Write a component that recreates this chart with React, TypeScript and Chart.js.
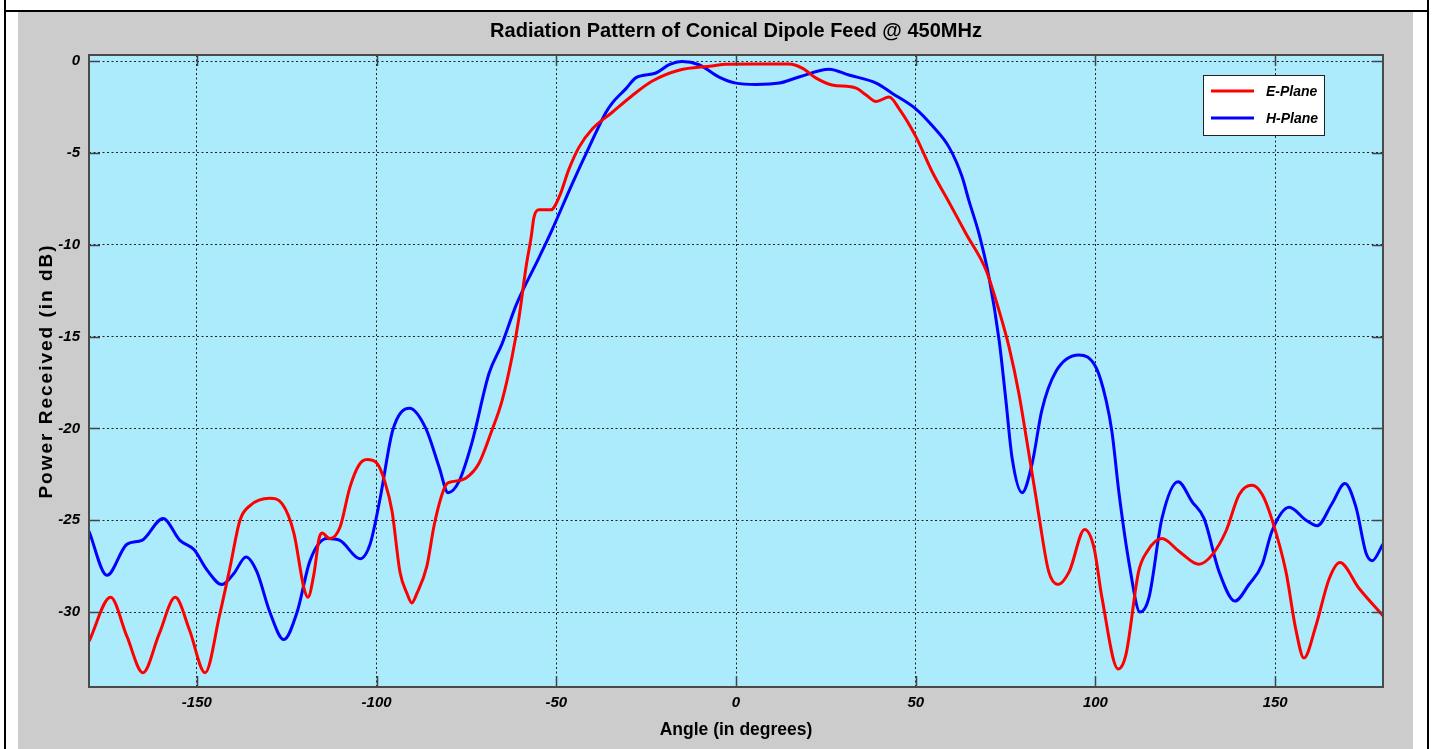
import React, { useEffect, useRef } from "react";
import { Chart, registerables } from "chart.js";

Chart.register(...registerables);

const TITLE = "Radiation Pattern of Conical Dipole Feed @ 450MHz";
const X_TITLE = "Angle (in degrees)";
const Y_TITLE = "Power Received (in dB)";
const SERIES_LABELS = ["E-Plane", "H-Plane"];
const SERIES_COLORS = ["#ff0000", "#0000ff"];

const X_MIN = -180;
const X_MAX = 180;
const Y_MIN = -34.08;
const Y_MAX = 0.33;
const X_TICKS = [-150, -100, -50, 0, 50, 100, 150];
const Y_TICKS = [-30, -25, -20, -15, -10, -5, 0];

const E_ANGLES = [
  -180, -174, -169.5, -165, -160.5, -156, -152, -147.7, -143.6, -140.8, -138, -135.2,
  -129.7, -126.3, -123, -120.2, -119.1, -117.4, -116, -115.2, -113, -110.2, -107.4,
  -104.9, -102.7, -99.9, -97.7, -95.7, -93.5, -91.5, -90.2, -88.8, -86, -84, -81.8,
  -80.4, -79, -75.1, -71.5, -67.9, -65.1, -62.3, -60.4, -58.4, -57, -56.2, -54.8,
  -51.5, -49.2, -46.5, -43.7, -40, -34.5, -29, -23.4, -15.9, -6.7, -2.8, 5, 14.7,
  18.4, 22.3, 26.7, 33.4, 36.2, 39, 42.6, 45.4, 50, 54.5, 59.3, 64, 69.6, 73.2, 76,
  78.7, 81, 83.5, 84.3, 87, 89.6, 92.7, 97, 99.6, 101.8, 106.3, 108.5, 112, 114.4,
  118.5, 123.3, 128.8, 132.4, 136.3, 140, 143.5, 146.4, 149, 153, 155.8, 158, 161.4,
  165, 168, 173.3, 180,
];
const E_VALUES = [
  -31.6, -29.2, -31.3, -33.3, -31.2, -29.2, -31.0, -33.3, -30.1, -27.6, -25.0, -24.2,
  -23.8, -24.1, -25.7, -28.7, -29.2, -27.9, -26.0, -25.7, -26.0, -25.4, -23.2,
  -22.0, -21.7, -21.9, -22.9, -24.5, -27.8, -29.0, -29.5, -29.0, -27.5, -25.3, -23.6,
  -23.0, -22.9, -22.7, -21.9, -20.1, -18.5, -16.1, -14.0, -11.2, -9.6, -8.5, -8.1,
  -8.1, -7.4, -5.9, -4.7, -3.7, -2.8, -1.9, -1.1, -0.5, -0.27, -0.17, -0.16, -0.16,
  -0.38, -0.93, -1.3, -1.47, -1.85, -2.2, -1.96, -2.6, -4.1, -6.0, -7.7, -9.4, -11.4,
  -13.6, -15.6, -18.1, -20.8, -23.8, -24.8, -27.8, -28.5, -27.8, -25.5, -26.5, -29.2,
  -33.1, -32.3, -27.8, -26.7, -26.0, -26.7, -27.4, -26.9, -25.6, -23.6, -23.1, -23.6,
  -24.9, -27.8, -31.0, -32.5, -30.7, -28.2, -27.3, -28.7, -30.2,
];

const H_ANGLES = [
  -180, -175, -169.4, -165.3, -159.4, -154.7, -150.8, -147.2, -143, -139.7, -136.3,
  -133.3, -129.7, -125.8, -122.1, -118.5, -113.8, -110.2, -104.6, -101.8, -99, -95.5,
  -90.8, -86.3, -82.6, -80.1, -77.1, -73.5, -68.7, -65.1, -61.2, -54.8, -51.2, -45.6,
  -40.9, -36.2, -34.5, -30.6, -27.8, -22.3, -18.6, -15, -10.3, -4.7, 0, 5.5, 12, 17.5,
  25.9, 31.4, 39, 43.4, 50, 54.5, 59.3, 62.9, 64.8, 67.6, 70.4, 73.2, 75.1, 76.8,
  79.6, 82.4, 85.1, 89, 95.4, 100.2, 103, 104.6, 106.6, 109.5, 112.4, 114.9, 118.5,
  123, 126.9, 130.2, 134.4, 138.8, 142.7, 146.4, 149.1, 153.9, 158.6, 161.7, 165.8,
  169.4, 172.5, 175.3, 177, 180,
];
const H_VALUES = [
  -25.6, -28.0, -26.3, -26.1, -24.9, -26.1, -26.6, -27.7, -28.5, -27.9, -27.0,
  -27.8, -30.0, -31.5, -30.0, -27.2, -26.0, -26.1, -27.1, -26.3, -23.8, -20.1,
  -18.9, -20.0, -22.1, -23.5, -22.9, -20.8, -17.0, -15.4, -13.3, -10.7, -9.2, -6.7,
  -4.7, -2.8, -2.3, -1.5, -0.9, -0.65, -0.2, -0.02, -0.2, -0.87, -1.2, -1.27, -1.2, -0.87,
  -0.44, -0.76, -1.2, -1.75, -2.6, -3.5, -4.7, -6.3, -7.6, -9.4, -11.8, -15.2, -18.5, -21.6,
  -23.5, -21.9, -19.0, -16.9, -16.0, -16.7, -18.5, -20.2, -23.6, -27.5, -30.0, -29.2, -24.9,
  -22.9, -24.0, -24.9, -27.8, -29.4, -28.5, -27.4, -25.6, -24.3, -25.0, -25.3, -24.1,
  -23.0, -24.3, -26.8, -27.2, -26.3,
];

const FONT = "'Liberation Sans', Arial, Helvetica, sans-serif";

const decorPlugin = {
  id: "decor",
  beforeDraw(chart: any) {
    const { ctx, chartArea } = chart;
    ctx.save();
    ctx.fillStyle = "#abebfc";
    ctx.fillRect(chartArea.left, chartArea.top, chartArea.right - chartArea.left, chartArea.bottom - chartArea.top);
    ctx.restore();
  },
  afterDatasetsDraw(chart: any) {
    const { ctx, chartArea } = chart;
    const xs = chart.scales.x;
    const ys = chart.scales.y;
    const { left, right, top, bottom } = chartArea;
    ctx.save();
    ctx.strokeStyle = "#444";
    ctx.lineWidth = 1.5;
    const tl = 11;
    ctx.beginPath();
    X_TICKS.forEach((v) => {
      const px = Math.round(xs.getPixelForValue(v)) + 0.5;
      ctx.moveTo(px, bottom);
      ctx.lineTo(px, bottom - tl);
      ctx.moveTo(px, top);
      ctx.lineTo(px, top + tl);
    });
    Y_TICKS.forEach((v) => {
      const py = Math.round(ys.getPixelForValue(v)) + 0.5;
      ctx.moveTo(left, py);
      ctx.lineTo(left + tl, py);
      ctx.moveTo(right, py);
      ctx.lineTo(right - tl, py);
    });
    ctx.stroke();
    ctx.lineWidth = 2;
    ctx.strokeStyle = "#4a4a4a";
    ctx.strokeRect(left, top, right - left, bottom - top);
    ctx.restore();
  },
  afterDraw(chart: any) {
    const { ctx, chartArea } = chart;
    const { left, right, top, bottom } = chartArea;
    ctx.save();
    ctx.fillStyle = "#000";
    ctx.textAlign = "center";
    ctx.textBaseline = "middle";
    ctx.font = `bold 20px ${FONT}`;
    ctx.fillText(TITLE, (left + right) / 2, 31);
    ctx.font = `bold 17.5px ${FONT}`;
    ctx.fillText(X_TITLE, (left + right) / 2, 730);
    ctx.save();
    ctx.translate(47, (top + bottom) / 2);
    ctx.rotate(-Math.PI / 2);
    ctx.font = `bold 19px ${FONT}`;
    try { (ctx as any).letterSpacing = "2px"; } catch (e) {}
    ctx.fillText(Y_TITLE, 0, 0);
    ctx.restore();

    // legend
    const bx = 1203, by = 75, bw = 121, bh = 60;
    ctx.fillStyle = "#ffffff";
    ctx.fillRect(bx, by, bw, bh);
    ctx.strokeStyle = "#222";
    ctx.lineWidth = 1;
    ctx.strokeRect(bx + 0.5, by + 0.5, bw, bh);
    ctx.font = `italic bold 14px ${FONT}`;
    ctx.textAlign = "left";
    chart.data.datasets.forEach((ds: any, i: number) => {
      const y = by + 16 + i * 27;
      ctx.strokeStyle = ds.borderColor;
      ctx.lineWidth = 3;
      ctx.beginPath();
      ctx.moveTo(bx + 8, y);
      ctx.lineTo(bx + 51, y);
      ctx.stroke();
      ctx.fillStyle = "#000";
      ctx.fillText(ds.label, bx + 63, y + 1);
    });
    ctx.restore();
  },
};

export default function App() {
  const ref = useRef<HTMLCanvasElement | null>(null);
  useEffect(() => {
    if (!ref.current) return;
    const mk = (xs: number[], ys: number[]) => xs.map((x, i) => ({ x, y: ys[i] }));
    const chart = new Chart(ref.current, {
      type: "line",
      data: {
        datasets: [
          {
            label: SERIES_LABELS[0],
            data: mk(E_ANGLES, E_VALUES),
            borderColor: SERIES_COLORS[0],
            borderWidth: 3,
            pointRadius: 0,
            cubicInterpolationMode: "monotone",
            fill: false,
          },
          {
            label: SERIES_LABELS[1],
            data: mk(H_ANGLES, H_VALUES),
            borderColor: SERIES_COLORS[1],
            borderWidth: 3,
            pointRadius: 0,
            cubicInterpolationMode: "monotone",
            fill: false,
          },
        ],
      },
      options: {
        animation: false,
        responsive: false,
        devicePixelRatio: 1,
        layout: { padding: { top: 55, right: 51, left: 0, bottom: 0 } },
        plugins: { legend: { display: false }, title: { display: false }, tooltip: { enabled: false } },
        scales: {
          x: {
            type: "linear",
            min: X_MIN,
            max: X_MAX,
            afterBuildTicks: (s: any) => { s.ticks = X_TICKS.map((v) => ({ value: v })); },
            afterFit: (s: any) => { s.height = 62; },
            grid: { color: "#222", lineWidth: 1, drawTicks: false } as any,
            border: { display: false, dash: [2, 2.5] },
            ticks: {
              padding: 7,
              color: "#000",
              font: { family: FONT, size: 15, weight: "bold", style: "italic" },
              maxRotation: 0,
            },
          },
          y: {
            type: "linear",
            min: Y_MIN,
            max: Y_MAX,
            afterBuildTicks: (s: any) => { s.ticks = Y_TICKS.map((v) => ({ value: v })); },
            afterFit: (s: any) => { s.width = 89; },
            grid: { color: "#222", lineWidth: 1, drawTicks: false } as any,
            border: { display: false, dash: [2, 2.5] },
            ticks: {
              padding: 9,
              color: "#000",
              font: { family: FONT, size: 15, weight: "bold", style: "italic" },
            },
          },
        },
      } as any,
      plugins: [decorPlugin],
    });
    return () => chart.destroy();
  }, []);

  return (
    <div style={{ position: "fixed", left: 0, top: 0, width: 1434, height: 749, background: "#fff", overflow: "hidden" }}>
      <div style={{ position: "absolute", left: 4, top: 0, width: 2, height: 749, background: "#000" }} />
      <div style={{ position: "absolute", left: 1427, top: 0, width: 2, height: 749, background: "#000" }} />
      <div style={{ position: "absolute", left: 4, top: 10, width: 1425, height: 2, background: "#000" }} />
      <div style={{ position: "absolute", left: 18, top: 12, width: 1395, height: 737, background: "#cccccc" }} />
      <canvas ref={ref} width={1434} height={749} style={{ position: "absolute", left: 0, top: 0, width: 1434, height: 749, display: "block" }} />
    </div>
  );
}
